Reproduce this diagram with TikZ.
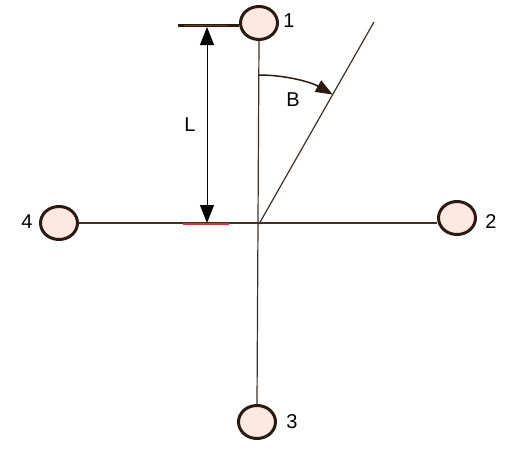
\documentclass[tikz,border=0pt]{standalone}
\usepackage{fontspec}
\setmainfont{Liberation Sans}
\usetikzlibrary{arrows.meta,shapes.geometric}
\definecolor{ln}{HTML}{3F3029}
\definecolor{cf}{HTML}{FFE8E2}
\definecolor{co}{HTML}{2A1A12}
\definecolor{rd}{HTML}{E03030}
\begin{document}
\begin{tikzpicture}[x=1pt,y=-1pt,
  ball/.style={ellipse,draw=co,line width=3pt,fill=cf,minimum width=37pt,minimum height=33pt,inner sep=0pt},
  lab/.style={font=\fontsize{20}{22}\selectfont,inner sep=0pt},
  wire/.style={draw=ln,line width=1.2pt},
  arr/.style={-{Triangle[length=17pt,width=13pt]}}]
\useasboundingbox (0,0) rectangle (520,461);
\coordinate (o) at (259,224);
\node[ball] (n1) at (259,23) {};
\node[ball] (n2) at (457,218) {};
\node[ball] (n3) at (257,422) {};
\node[ball] (n4) at (59,223) {};
\node[lab] (t1) at (289,21) {1};
\node[lab] (t2) at (491,222) {2};
\node[lab] (t3) at (292,422) {3};
\node[lab] (t4) at (27,222) {4};
\draw[wire] (n4.east) -- (n2.west|-n4.east);
\draw[wire] (n1.south) -- (n3.north);
\coordinate (d) at (374,22);
\draw[wire] (o) -- (d);
% top reference bar
\coordinate (tl) at (178,25);
\draw[co,line width=3pt] (tl) -- (n1.west|-tl);
\coordinate (rl1) at (184,25);
\coordinate (rl2) at (228,25);
\draw[rd!70!black,line width=1pt] (rl1) -- (rl2);
\coordinate (rb1) at (183,224);
\coordinate (rb2) at (229,224);
\draw[rd,line width=1.5pt] (rb1) -- (rb2);
% dimension
\coordinate (da) at (207,27);
\coordinate (db) at (207,223);
\draw[black,line width=1pt,{Triangle[length=18pt,width=14pt]}-{Triangle[length=18pt,width=14pt]}] (da) -- (db);
\node[lab] (L) at (190,125) {L};
% angle arc
\draw[co,line width=1.5pt,arr] (259,75) arc[start angle=-90,end angle=-60.35,radius=149];
\node[lab] (B) at (293,100) {B};
\end{tikzpicture}
\end{document}
